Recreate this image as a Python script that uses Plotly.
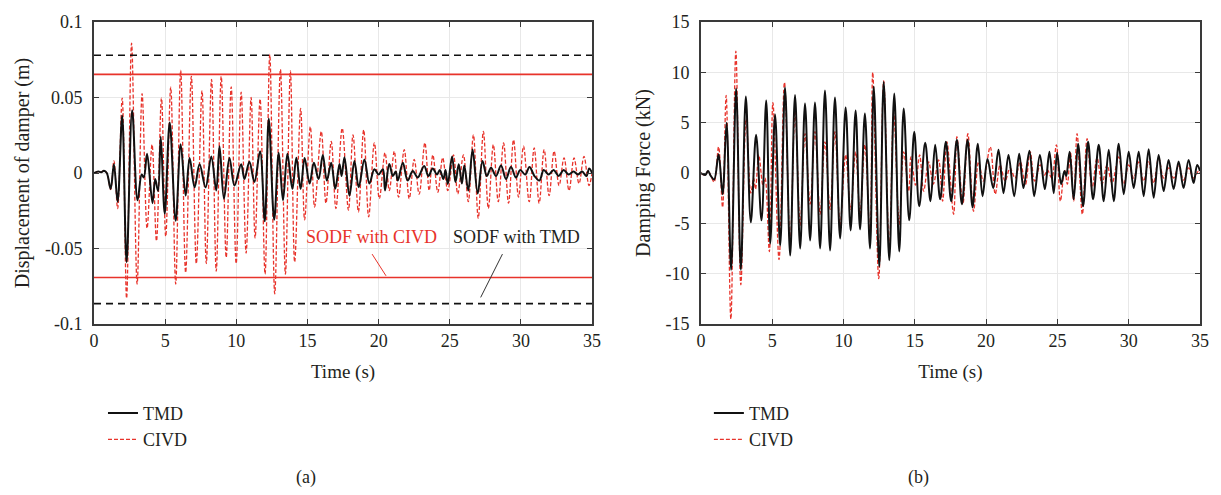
import plotly.graph_objects as go

# ---------------- data ----------------
# (a) displacement of damper (m): extrema of each record
t_tmd_disp = [0, 0.3, 0.5, 0.7, 0.9, 1.17, 1.4, 1.66, 1.98, 2.29, 2.68, 3.06, 3.35, 3.5, 3.73, 4.11, 4.3, 4.5,
              4.69, 4.97, 5.32, 5.74, 6.09, 6.44, 6.72, 7.07, 7.42, 7.84, 8.24, 8.59, 8.82, 9.13, 9.52, 9.87,
              10.34, 10.57, 10.92, 11.27, 11.67, 12.0, 12.28, 12.66, 12.98, 13.28, 13.59, 13.94, 14.22, 14.52,
              14.8, 15.15, 15.45, 15.78, 16.08, 16.36, 16.67, 16.95, 17.25, 17.4, 17.6, 17.95, 18.3, 18.6, 19.0,
              19.35, 19.7, 20.0, 20.3, 20.45, 20.75, 21.0, 21.2, 21.35, 21.7, 22.04, 22.4, 22.75, 23.2, 23.5,
              23.8, 24.1, 24.3, 24.55, 24.7, 24.86, 25.16, 25.4, 25.63, 25.85, 26.02, 26.3, 26.6, 26.96, 27.3,
              27.6, 27.9, 28.25, 28.6, 28.95, 29.3, 29.65, 29.95, 30.3, 30.6, 30.95, 31.3, 31.6, 31.95, 32.3,
              32.65, 33.0, 33.35, 33.7, 34.0, 34.3, 34.6, 34.8, 35.0]
tmd_disp = [0, 0.001, 0.0005, 0.0015, 0.0, -0.0105, 0.0058, -0.019, 0.038, -0.059, 0.0416, -0.018, -0.001, -0.003,
            0.0127, -0.020, -0.004, -0.012, 0.024, -0.027, 0.0335, -0.0316, 0.019, -0.015, 0.010, -0.0095, 0.0058,
            -0.0095, 0.011, -0.0116, 0.0177, -0.017, 0.010, -0.0083, 0.0058, -0.004, 0.0075, -0.006, 0.0144,
            -0.032, 0.036, -0.031, 0.0134, -0.018, 0.0127, -0.0105, 0.0101, -0.0105, 0.010, -0.007, 0.0068,
            -0.004, 0.012, -0.005, 0.0068, -0.0105, 0.006, -0.002, 0.0105, -0.015, 0.008, -0.0095, 0.009,
            -0.007, 0.0025, -0.001, 0.0025, -0.0116, 0.006, -0.002, 0.001, -0.005, 0.0068, -0.005, 0.0014,
            -0.003, 0.0047, -0.002, 0.003, -0.001, 0.002, -0.004, 0.002, -0.0073, 0.011, -0.006, 0.0058,
            -0.007, 0.005, -0.0116, 0.0155, -0.0135, 0.008, -0.002, 0.0035, -0.002, 0.005, -0.004, 0.004,
            -0.003, 0.002, -0.001, 0.004, -0.002, -0.005, 0.002, -0.001, 0.002, -0.002, 0.002, -0.001, 0.001,
            -0.001, 0.001, -0.002, 0.003, 0.0]

t_civd_disp = [0, 0.3, 0.5, 0.7, 0.9, 1.17, 1.4, 1.66, 1.98, 2.29, 2.64, 3.03, 3.38, 3.73, 4.08, 4.39, 4.74, 5.04,
               5.39, 5.74, 6.09, 6.44, 6.84, 7.19, 7.59, 7.89, 8.26, 8.59, 8.94, 9.29, 9.64, 9.99, 10.34, 10.69,
               11.04, 11.32, 11.67, 12.02, 12.35, 12.7, 13.1, 13.45, 13.8, 14.1, 14.52, 14.8, 15.2, 15.5, 15.97,
               16.3, 16.67, 17.0, 17.44, 17.88, 18.2, 18.58, 18.95, 19.3, 19.7, 20.05, 20.45, 20.75, 21.1, 21.4,
               21.8, 22.15, 22.5, 22.85, 23.25, 23.55, 23.81, 24.16, 24.5, 24.86, 25.26, 25.56, 25.96, 26.3,
               26.66, 27.0, 27.36, 27.71, 28.06, 28.41, 28.78, 29.13, 29.48, 29.83, 30.18, 30.58, 30.93, 31.28,
               31.63, 31.98, 32.33, 32.68, 33.03, 33.38, 33.73, 34.08, 34.43, 34.78, 35.0]
civd_disp = [0, 0.001, 0.0005, 0.0015, 0.0, -0.011, 0.008, -0.0235, 0.0496, -0.083, 0.086, -0.0735, 0.0525,
             -0.0366, 0.0188, -0.045, 0.0496, -0.042, 0.0568, -0.0735, 0.068, -0.066, 0.064, -0.060, 0.0546,
             -0.060, 0.062, -0.065, 0.064, -0.056, 0.057, -0.060, 0.0535, -0.053, 0.050, -0.043, 0.049, -0.067,
             0.0785, -0.080, 0.0687, -0.067, 0.0676, -0.059, 0.0427, -0.031, 0.0307, -0.0225, 0.0275, -0.020,
             0.021, -0.0235, 0.0297, -0.0246, 0.0253, -0.0257, 0.0285, -0.029, 0.020, -0.017, 0.0134, -0.0116,
             0.0144, -0.016, 0.0155, -0.017, 0.009, -0.014, 0.020, -0.0116, 0.012, -0.0127, 0.010, -0.0116,
             0.012, -0.0138, 0.012, -0.019, 0.0253, -0.030, 0.0275, -0.0235, 0.0188, -0.019, 0.020, -0.020,
             0.022, -0.016, 0.0177, -0.019, 0.0166, -0.020, 0.0155, -0.015, 0.0144, -0.0083, 0.010, -0.0116,
             0.010, -0.007, 0.011, -0.0083, 0.0]

# stroke limits of the SODF structure
sodf_civd_limits = [0.0653, -0.0692]
sodf_tmd_limits = [0.078, -0.0865]

# (b) damping force (kN): extrema of each record
t_tmd_force = [0, 0.3, 0.5, 0.7, 0.93, 1.24, 1.52, 1.8, 2.12, 2.47, 2.8, 3.15, 3.5, 3.87, 4.25, 4.58, 4.86, 5.2,
               5.56, 5.9, 6.26, 6.6, 6.96, 7.3, 7.66, 8.0, 8.36, 8.7, 9.06, 9.4, 9.76, 10.15, 10.5, 10.85, 11.16,
               11.5, 11.86, 12.12, 12.51, 12.82, 13.21, 13.56, 13.91, 14.22, 14.61, 14.96, 15.31, 15.73, 16.1,
               16.43, 16.78, 17.18, 17.55, 17.95, 18.3, 18.7, 19.05, 19.42, 19.75, 20.1, 20.5, 20.87, 21.22,
               21.57, 21.97, 22.32, 22.62, 23.04, 23.37, 23.77, 24.12, 24.44, 24.74, 24.98, 25.26, 25.5, 25.62,
               25.86, 26.14, 26.45, 26.8, 27.15, 27.5, 27.9, 28.25, 28.6, 28.95, 29.3, 29.65, 30.0, 30.35, 30.7,
               31.05, 31.4, 31.75, 32.1, 32.45, 32.8, 33.15, 33.5, 33.85, 34.2, 34.55, 34.8, 35.0]
tmd_force = [0, -0.2, 0.2, -0.3, -0.65, 1.86, -2.1, 5.0, -9.6, 8.4, -9.6, 7.6, -4.9, 3.8, -4.7, 7.2, -7.0, 5.8,
             -7.2, 8.5, -8.2, 7.75, -7.5, 6.9, -6.7, 7.0, -7.5, 8.2, -7.7, 7.5, -6.5, 6.5, -5.7, 6.2, -5.6, 5.9,
             -7.5, 8.6, -9.3, 9.05, -8.66, 7.9, -7.8, 6.4, -4.7, 4.1, -3.3, 3.0, -2.8, 2.8, -2.6, 3.1, -2.8, 3.3,
             -3.1, 3.3, -3.4, 2.9, -2.3, 1.4, -1.5, 2.3, -2.0, 1.8, -2.3, 1.9, -1.5, 2.2, -2.3, 1.8, -1.6, 2.1,
             -2.0, 2.0, -1.1, 0.2, -0.3, 2.1, -2.6, 2.9, -3.3, 3.1, -2.6, 2.8, -2.8, 2.3, -2.8, 2.9, -2.1, 2.1,
             -1.5, 2.1, -2.3, 2.35, -2.45, 1.8, -1.8, 1.3, -1.6, 1.15, -1.5, 1.3, -1.0, 0.8, 0.2]

t_civd_force = [0, 0.3, 0.5, 0.7, 0.93, 1.24, 1.52, 1.77, 2.1, 2.45, 2.8, 3.17, 3.5, 3.7, 3.83, 4.06, 4.35, 4.5,
                4.8, 5.05, 5.48, 5.86, 6.26, 6.6, 6.96, 7.3, 7.66, 8.0, 8.36, 8.7, 9.06, 9.4, 9.76, 10.15, 10.5,
                10.85, 11.16, 11.5, 11.86, 12.05, 12.47, 12.82, 13.21, 13.52, 13.91, 14.22, 14.57, 14.73, 15.05,
                15.34, 15.62, 15.97, 16.3, 16.67, 16.95, 17.25, 17.72, 17.95, 18.37, 18.72, 19.12, 19.47, 19.8,
                20.29, 20.64, 20.98, 21.33, 21.68, 22.03, 22.4, 22.75, 23.09, 23.4, 23.8, 24.1, 24.3, 24.6, 24.93,
                25.21, 25.5, 25.7, 25.91, 26.14, 26.38, 26.75, 27.08, 27.43, 27.78, 28.13, 28.48, 28.83, 29.3,
                29.65, 30.0, 30.35, 30.7, 31.05, 31.4, 31.75, 32.1, 32.45, 32.8, 33.15, 33.5, 33.85, 34.2, 34.55,
                34.9, 35.0]
civd_force = [0, -0.2, 0.2, -0.3, -0.9, 2.6, -3.4, 7.7, -14.5, 12.1, -11.1, 5.4, -2.0, -0.5, -1.6, 1.8, -1.2,
              -0.5, -7.8, 7.0, -8.6, 9.0, -7.0, 6.2, -5.2, 3.9, -3.1, 4.1, -4.1, 3.1, -3.6, 4.1, -5.2, 1.8, -3.6,
              2.1, -4.1, 2.8, -6.4, 10.0, -10.5, 9.15, -7.7, 6.0, -5.1, 2.1, -1.8, 1.6, -1.2, 1.8, -1.8, 1.1,
              -1.1, 1.3, -2.8, 3.1, -4.1, 3.6, -3.1, 3.9, -3.8, 1.1, -0.8, 2.6, -2.1, 0.8, -0.8, 0.5, -0.5, 1.1,
              -1.2, 2.1, -0.8, 0.8, -0.2, 0.3, -0.5, 2.8, -2.8, 0.3, -1.1, 2.1, -2.8, 3.9, -4.1, 3.4, -1.5, 1.5,
              -1.1, 0.8, -1.0, 1.6, -1.1, 0.8, -0.5, 1.1, -0.8, 1.1, -1.0, 1.5, -0.5, 0.5, -0.5, 0.7, -0.7, 0.5,
              -0.5, 0.2, 0]

x_ticks = [0, 5, 10, 15, 20, 25, 30, 35]
disp_ticks = [0.1, 0.05, 0, -0.05, -0.1]
disp_tick_text = ["0.1", "0.05", "0", "-0.05", "-0.1"]
force_ticks = [15, 10, 5, 0, -5, -10, -15]
force_tick_text = ["15", "10", "5", "0", "-5", "-10", "-15"]

# ---------------- styling ----------------
FONT = "Liberation Serif"
TXT = "#231f20"
BLACK = "#111111"
RED = "#e8332b"

fig = go.Figure()

# CIVD drawn first so the TMD curve sits on top; legend order set by legendrank
fig.add_trace(go.Scatter(x=t_civd_disp, y=civd_disp, name="CIVD", mode="lines", line_shape="spline",
                         line=dict(color=RED, width=1.3, dash="4px,2px"), xaxis="x", yaxis="y", legend="legend",
                         legendrank=2))
fig.add_trace(go.Scatter(x=t_tmd_disp, y=tmd_disp, name="TMD", mode="lines", line_shape="spline",
                         line=dict(color=BLACK, width=2), xaxis="x", yaxis="y", legend="legend",
                         legendrank=1))
fig.add_trace(go.Scatter(x=t_civd_force, y=civd_force, name="CIVD", mode="lines", line_shape="spline",
                         line=dict(color=RED, width=1.3, dash="4px,2px"), xaxis="x2", yaxis="y2",
                         legend="legend2", legendrank=2))
fig.add_trace(go.Scatter(x=t_tmd_force, y=tmd_force, name="TMD", mode="lines", line_shape="spline",
                         line=dict(color=BLACK, width=2), xaxis="x2", yaxis="y2", legend="legend2",
                         legendrank=1))

# SODF limit lines
for v in sodf_tmd_limits:
    fig.add_shape(type="line", xref="x", yref="y", x0=0, x1=35, y0=v, y1=v,
                  line=dict(color=BLACK, width=1.6, dash="7px,5px"))
for v in sodf_civd_limits:
    fig.add_shape(type="line", xref="x", yref="y", x0=0, x1=35, y0=v, y1=v,
                  line=dict(color=RED, width=1.6))

# leader lines for the labels
fig.add_shape(type="line", xref="x", yref="y", x0=19.54, y0=-0.0537, x1=20.52, y1=-0.0681,
              line=dict(color=RED, width=1))
fig.add_shape(type="line", xref="x", yref="y", x0=28.7, y0=-0.0537, x1=27.17, y1=-0.0824,
              line=dict(color="#333333", width=1))

fig.add_annotation(x=19.5, y=-0.0425, xref="x", yref="y", text="SODF with CIVD", showarrow=False,
                   font=dict(family=FONT, size=18, color=RED))
fig.add_annotation(x=29.7, y=-0.0425, xref="x", yref="y", text="SODF with TMD", showarrow=False,
                   font=dict(family=FONT, size=18, color=TXT))

# layout geometry
ML, MR, MT, MB = 94, 19, 17, 171
W, H = 1221, 495
PW = W - ML - MR
PH = H - MT - MB

def px_x(p):
    return (p - ML) / PW

def px_y(p):
    return 1 - (p - MT) / PH

axis_common = dict(showline=True, linecolor="#3a3a3a", linewidth=1.6, mirror="ticks", ticks="inside",
                   ticklen=5, tickcolor="#3a3a3a", showgrid=True, gridcolor="#e8e8e8", gridwidth=1,
                   zeroline=False, tickfont=dict(family=FONT, size=18, color=TXT))

legend_common = dict(xanchor="left", yanchor="top", traceorder="normal", tracegroupgap=2,
                     bgcolor="rgba(0,0,0,0)", font=dict(family=FONT, size=18, color=TXT))

fig.update_layout(
    width=W, height=H,
    margin=dict(l=ML, r=MR, t=MT, b=MB),
    paper_bgcolor="white", plot_bgcolor="white",
    font=dict(family=FONT, color=TXT),
    xaxis=dict(domain=[0, px_x(593)], range=[0, 35], tickvals=x_ticks, anchor="y",
               title=dict(text="Time (s)", font=dict(family=FONT, size=19, color=TXT), standoff=14),
               **axis_common),
    yaxis=dict(domain=[0, 1], range=[-0.1, 0.1], tickvals=disp_ticks, ticktext=disp_tick_text, anchor="x",
               title=dict(text="Displacement of damper (m)", font=dict(family=FONT, size=20, color=TXT),
                          standoff=10),
               ticklabelstandoff=6, **axis_common),
    xaxis2=dict(domain=[px_x(702), 1], range=[0, 35], tickvals=x_ticks, anchor="y2",
                title=dict(text="Time (s)", font=dict(family=FONT, size=19, color=TXT), standoff=14),
                **axis_common),
    yaxis2=dict(domain=[0, 1], range=[-15, 15], tickvals=force_ticks, ticktext=force_tick_text, anchor="x2",
                title=dict(text="Damping Force (kN)", font=dict(family=FONT, size=20, color=TXT), standoff=10),
                ticklabelstandoff=6, **axis_common),
    legend=dict(x=px_x(103), y=px_y(396), **legend_common),
    legend2=dict(x=px_x(710), y=px_y(396), **legend_common),
    showlegend=True,
)

fig.add_annotation(x=px_x(306), y=px_y(480), xref="paper", yref="paper", text="(a)", showarrow=False,
                   xanchor="center", yanchor="middle", font=dict(family=FONT, size=18, color=TXT))
fig.add_annotation(x=px_x(920), y=px_y(480), xref="paper", yref="paper", text="(b)", showarrow=False,
                   xanchor="center", yanchor="middle", font=dict(family=FONT, size=18, color=TXT))

fig.write_html("out.html")
